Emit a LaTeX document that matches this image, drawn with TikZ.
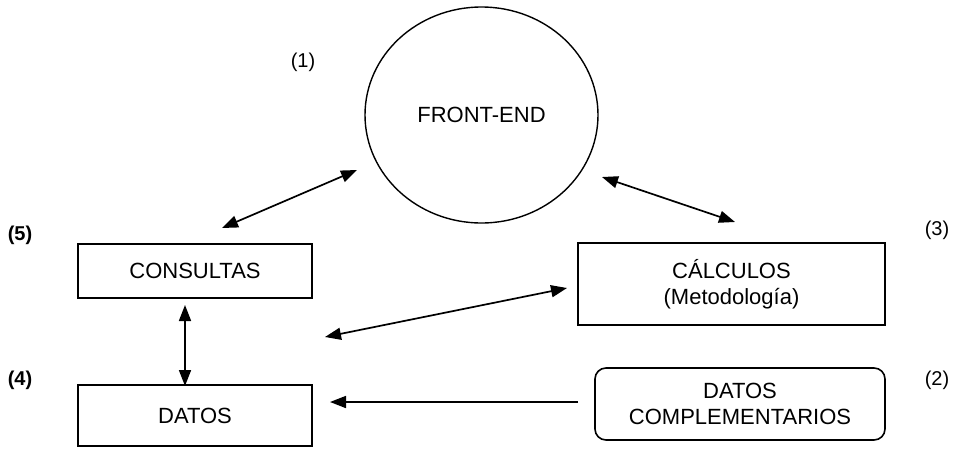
\documentclass[tikz,border=0pt]{standalone}
\usepackage{fontspec}
\setmainfont{Liberation Sans}
\usetikzlibrary{shapes.geometric,arrows.meta}
\tikzset{
  boxnode/.style={draw, line width=1.6pt, rectangle, inner sep=0pt, align=center,
    font=\fontsize{22}{26}\selectfont},
  numlabel/.style={font=\fontsize{20}{24}\selectfont, inner sep=0pt},
  link/.style={line width=1.7pt, {Triangle[length=16pt,width=12pt]}-{Triangle[length=16pt,width=12pt]}},
  onelink/.style={line width=1.7pt, -{Triangle[length=16pt,width=12pt]}}
}
\begin{document}
\begin{tikzpicture}[x=1pt,y=-1pt]
\useasboundingbox (0,0) rectangle (962,448);
% nodes
\node[draw, ellipse, line width=1.4pt, minimum width=233pt, minimum height=216pt, inner sep=0pt,
  font=\fontsize{22}{26}\selectfont] (front) at (481.5,115) {FRONT-END};
\node[boxnode, minimum width=234pt, minimum height=54pt] (cons) at (195,271) {CONSULTAS};
\node[boxnode, minimum width=234pt, minimum height=61pt] (datos) at (195,415.5) {DATOS};
\node[boxnode, minimum width=307pt, minimum height=82pt] (calc) at (731.5,284) {CÁLCULOS\\(Metodología)};
\node[boxnode, rounded corners=11pt, minimum width=290pt, minimum height=72pt] (dc) at (740,404) {DATOS\\COMPLEMENTARIOS};
% labels
\node[numlabel] (l1) at (303,62) {(1)};
\node[numlabel] (l3) at (937,230) {(3)};
\node[numlabel] (l2) at (937,380) {(2)};
\node[numlabel, font=\fontsize{20}{24}\selectfont\bfseries] (l5) at (20,235) {(5)};
\node[numlabel, font=\fontsize{20}{24}\selectfont\bfseries] (l4) at (20,380) {(4)};
% connector ends
\coordinate (a1) at (222,228);
\coordinate (a2) at (357,170);
\coordinate (b1) at (602,177);
\coordinate (b2) at (735,222);
\coordinate (c1) at (325,337);
\coordinate (c2) at (567,288);
\coordinate (d1) at (185,305);
\coordinate (d2) at (185,386);
\coordinate (e1) at (578,402);
\coordinate (e2) at (330,402);
% connectors
\draw[link] (a1) -- (a2);
\draw[link] (b1) -- (b2);
\draw[link] (c1) -- (c2);
\draw[link] (d1) -- (d2);
\draw[onelink] (e1) -- (e2);
\end{tikzpicture}
\end{document}
